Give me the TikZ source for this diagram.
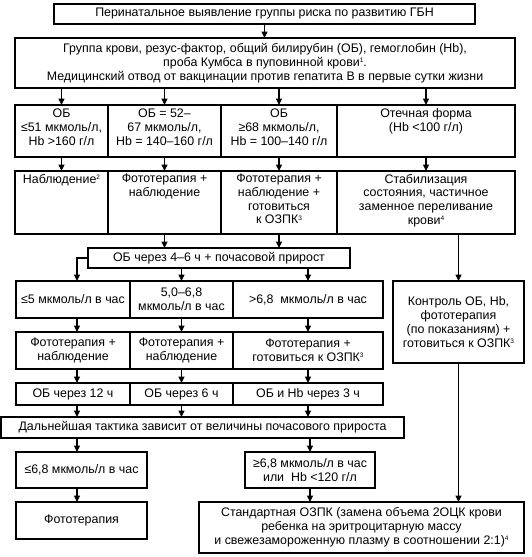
\documentclass[tikz,border=0pt]{standalone}
\usepackage{fontspec}
\setmainfont{Liberation Sans}
\usetikzlibrary{arrows.meta}
\newcommand\fnm[1]{\raisebox{3.8pt}{\fontsize{6.5}{6.5}\selectfont #1}}
\newcommand\cellnode[7]{%
  \pgfmathsetmacro\cellw{#4-#2}%
  \pgfmathsetmacro\cellh{#5-#3}%
  \node[cellbox] (#1) at (#2,#3) {\parbox[c][\cellh pt][#6]{\cellw pt}{\centering #7\par}};}
\tikzset{
  cellbox/.style={draw, line width=1.05pt, inner sep=0pt, outer sep=0pt, anchor=north west,
    font=\fontsize{12.4}{13.8}\selectfont},
  arr/.style={draw, line width=1.05pt, -{Triangle[length=6.5pt,width=6pt]}},
  ln/.style={draw, line width=1.05pt}
}
\begin{document}
\begin{tikzpicture}[x=1pt,y=-1pt]
\useasboundingbox (0,0) rectangle (531,557);
\fill[white] (0,0) rectangle (531,557);
% top
\cellnode{b1}{54}{4}{475}{24}{c}{Перинатальное выявление группы риска по развитию ГБН}
\cellnode{b2}{15}{38}{515}{88}{c}{Группа крови, резус-фактор, общий билирубин (ОБ), гемоглобин (Hb),\\ проба Кумбса в пуповинной крови\fnm{1}.\\ Медицинский отвод от вакцинации против гепатита В в первые сутки жизни}
% row 3
\cellnode{r3a}{15}{105}{108}{157}{t}{\vspace*{4pt}ОБ\\ ≤51 мкмоль/л,\\ Hb >160 г/л}
\cellnode{r3b}{108}{105}{221}{157}{t}{\vspace*{4pt}ОБ = 52–\\ 67 мкмоль/л,\\ Hb = 140–160 г/л}
\cellnode{r3c}{221}{105}{337}{157}{t}{\vspace*{4pt}ОБ\\ ≥68 мкмоль/л,\\ Hb = 100–140 г/л}
\cellnode{r3d}{337}{105}{515}{157}{t}{\vspace*{4pt}Отечная форма\\ (Hb <100 г/л)}
% row 4
\cellnode{r4a}{15}{171}{108}{234}{t}{\vspace*{3pt}Наблюдение\fnm{2}}
\cellnode{r4b}{108}{171}{221}{234}{t}{\vspace*{3pt}Фототерапия +\\ наблюдение}
\cellnode{r4c}{221}{171}{337}{234}{t}{\vspace*{3pt}Фототерапия +\\ наблюдение +\\ готовиться\\ к ОЗПК\fnm{3}}
\cellnode{r4d}{337}{171}{515}{234}{t}{\vspace*{3pt}Стабилизация\\ состояния, частичное\\ заменное переливание\\ крови\fnm{4}}
% OB 4-6
\cellnode{ob}{88}{248}{350}{268}{c}{ОБ через 4–6 ч + почасовой прирост}
% row 5
\cellnode{r5a}{16}{281}{130}{318}{c}{≤5 мкмоль/л в час}
\cellnode{r5b}{130}{281}{233}{318}{c}{5,0–6,8\\ мкмоль/л в час}
\cellnode{r5c}{233}{281}{383}{318}{c}{>6,8~ мкмоль/л в час}
% row 6
\cellnode{r6a}{16}{332}{130}{369}{c}{Фототерапия +\\ наблюдение}
\cellnode{r6b}{130}{332}{233}{369}{c}{Фототерапия +\\ наблюдение}
\cellnode{r6c}{233}{332}{383}{369}{c}{Фототерапия +\\ готовиться к ОЗПК\fnm{3}}
% row 7
\cellnode{r7a}{16}{383}{130}{405}{c}{ОБ через 12 ч}
\cellnode{r7b}{130}{383}{233}{405}{c}{ОБ через 6 ч}
\cellnode{r7c}{233}{383}{383}{405}{c}{ОБ и Hb через 3 ч}
% tactic
\cellnode{dal}{1}{417}{404}{438}{c}{Дальнейшая тактика зависит от величины почасового прироста}
% row 8
\cellnode{r8a}{16}{452}{147}{488}{c}{≤6,8 мкмоль/л в час}
\cellnode{r8b}{245}{452}{375}{488}{c}{≥6,8 мкмоль/л в час\\ или~ Hb <120 г/л}
\cellnode{foto}{16}{502}{147}{539}{c}{Фототерапия}
\cellnode{st}{199}{502}{524}{553}{c}{Стандартная ОЗПК (замена объема 2ОЦК крови\\ ребенка на эритроцитарную массу\\ и свежезамороженную плазму в соотношении 2:1)\fnm{4}}
% control
\cellnode{kon}{393}{281}{524}{363}{c}{Контроль ОБ, Hb,\\ фототерапия\\ (по показаниям) +\\ готовиться к ОЗПК\fnm{3}}
% column coordinate
\coordinate (ax1) at (77,0);
% connectors
\draw[arr] (b1.south) -- (b1.south |- b2.north);
\draw[arr] (b2.south -| r3a.north) -- (r3a.north);
\draw[arr] (b2.south -| r3b.north) -- (r3b.north);
\draw[arr] (b2.south -| r3c.north) -- (r3c.north);
\draw[arr] (b2.south -| r3d.north) -- (r3d.north);
\draw[arr] (r3a.south) -- (r4a.north);
\draw[arr] (r3b.south) -- (r4b.north);
\draw[arr] (r3c.south) -- (r4c.north);
\draw[arr] (r3d.south) -- (r4d.north);
\draw[arr] (r4b.south) -- (r4b.south |- ob.north);
\draw[arr] (r4c.south) -- (r4c.south |- ob.north);
\draw[arr] (ob.west) -| (ax1 |- r5a.north);
\draw[arr] (ob.south -| r5b.north) -- (r5b.north);
\draw[arr] (ob.south -| r5c.north) -- (r5c.north);
\draw[arr] (kon.north |- r4d.south) -- (kon.north);
\draw[arr] (ax1 |- r5a.south) -- (ax1 |- r6a.north);
\draw[arr] (r5b.south) -- (r6b.north);
\draw[arr] (r5c.south) -- (r6c.north);
\draw[arr] (ax1 |- r6a.south) -- (ax1 |- r7a.north);
\draw[arr] (r6b.south) -- (r7b.north);
\draw[arr] (r6c.south) -- (r7c.north);
\draw[arr] (ax1 |- r7a.south) -- (ax1 |- dal.north);
\draw[arr] (r7b.south) -- (r7b.south |- dal.north);
\draw[arr] (r7c.south) -- (r7c.south |- dal.north);
\draw[arr] (ax1 |- dal.south) -- (ax1 |- r8a.north);
\draw[arr] (r8b.north |- dal.south) -- (r8b.north);
\draw[arr] (ax1 |- r8a.south) -- (ax1 |- foto.north);
\draw[arr] (r8b.south) -- (r8b.south |- st.north);
\draw[arr] (kon.south) -- (kon.south |- st.north);
\end{tikzpicture}
\end{document}
